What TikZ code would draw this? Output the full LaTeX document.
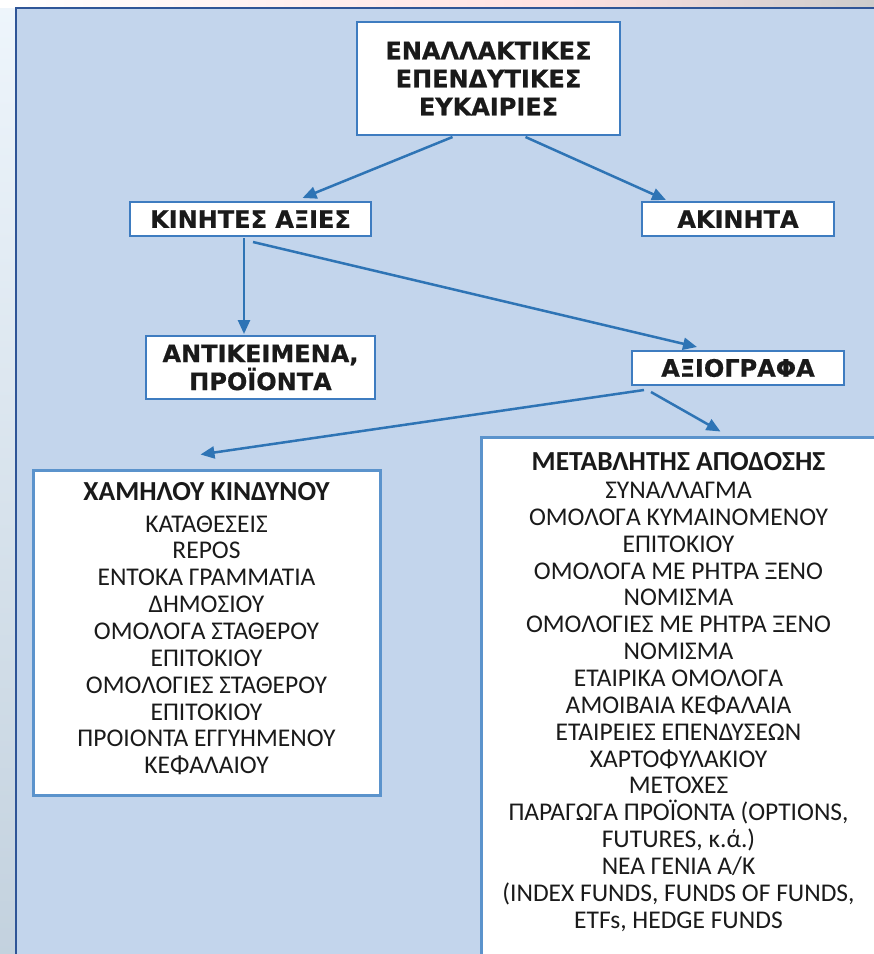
\documentclass[tikz,border=0pt]{standalone}
\usepackage{fontspec}
\setmainfont{Carlito}
\newfontfamily\hdfont{DejaVu Sans}[FakeBold=0.6]
\usetikzlibrary{arrows.meta,calc}
\definecolor{bgblue}{HTML}{C3D5EC}
\definecolor{stripblue}{HTML}{D4E6F6}
\definecolor{frameblue}{HTML}{2F5597}
\definecolor{arrowblue}{HTML}{2E74B5}
\definecolor{boxline}{HTML}{3E7CC0}
\definecolor{bigline}{HTML}{5B93CC}
\definecolor{txt}{HTML}{1A1A1A}
\tikzset{
  hdbox/.style={draw=boxline, line width=2pt, fill=white, inner sep=0pt, align=center,
    text=txt, font=\hdfont\bfseries\fontsize{24}{28}\selectfont},
  listbox/.style={draw=bigline, line width=3pt, fill=white, inner sep=0pt},
  listtxt/.style={anchor=north, align=center, text=txt, inner sep=0pt,
    font=\fontsize{25.5}{26.85}\selectfont},
  conn/.style={draw=arrowblue, line width=2.5pt, -{Triangle[length=14pt,width=12pt]}}
}
\newcommand{\ttl}[1]{{\bfseries\fontsize{27.5}{26.8}\selectfont #1}}
\begin{document}
\begin{tikzpicture}[x=1pt,y=-1pt]
\useasboundingbox (0,0) rectangle (874,954);
% slide background
\fill[stripblue] (0,0) rectangle (874,954);
\shade[left color=white, right color=white!70!red!40] (0,0) rectangle (560,8);
\shade[left color=white!70!red!40, right color=gray!40] (560,0) rectangle (874,8);
\shade[top color=white!60!stripblue, bottom color=stripblue!80!gray] (0,8) rectangle (15,954);
\fill[bgblue] (16,8) rectangle (876,956);
\draw[frameblue, line width=2pt] (16,956) -- (16,8) -- (876,8);
% nodes
\node[hdbox, minimum width=263pt, minimum height=113pt] (top) at (488.5,78.5)
  {ΕΝΑΛΛΑΚΤΙΚΕΣ\\ΕΠΕΝΔΥΤΙΚΕΣ\\ΕΥΚΑΙΡΙΕΣ};
\node[hdbox, minimum width=241pt, minimum height=34pt] (kin) at (250.5,219) {ΚΙΝΗΤΕΣ ΑΞΙΕΣ};
\node[hdbox, minimum width=192pt, minimum height=34pt] (akin) at (738,219) {ΑΚΙΝΗΤΑ};
\node[hdbox, minimum width=229pt, minimum height=63pt] (ant) at (260.5,367.5) {ΑΝΤΙΚΕΙΜΕΝΑ,\\ΠΡΟΪΟΝΤΑ};
\node[hdbox, minimum width=212pt, minimum height=34pt] (axi) at (738,368) {ΑΞΙΟΓΡΑΦΑ};
\node[listbox, minimum width=347pt, minimum height=325pt] (low) at (206.5,632.5) {};
\node[listtxt] (lowtxt) at ($(low.north)+(0,14)$)
  {\ttl{ΧΑΜΗΛΟΥ ΚΙΝΔΥΝΟΥ}\\[4.5pt]ΚΑΤΑΘΕΣΕΙΣ\\REPOS\\ΕΝΤΟΚΑ ΓΡΑΜΜΑΤΙΑ\\ΔΗΜΟΣΙΟΥ\\ΟΜΟΛΟΓΑ ΣΤΑΘΕΡΟΥ\\ΕΠΙΤΟΚΙΟΥ\\ΟΜΟΛΟΓΙΕΣ ΣΤΑΘΕΡΟΥ\\ΕΠΙΤΟΚΙΟΥ\\ΠΡΟΙΟΝΤΑ ΕΓΓΥΗΜΕΝΟΥ\\ΚΕΦΑΛΑΙΟΥ};
\node[listbox, minimum width=395pt, minimum height=530pt] (var) at (678.5,702) {};
\node[listtxt] (vartxt) at ($(var.north)+(0,16.5)$)
  {\ttl{ΜΕΤΑΒΛΗΤΗΣ ΑΠΟΔΟΣΗΣ}\\[1.5pt]ΣΥΝΑΛΛΑΓΜΑ\\ΟΜΟΛΟΓΑ ΚΥΜΑΙΝΟΜΕΝΟΥ\\ΕΠΙΤΟΚΙΟΥ\\ΟΜΟΛΟΓΑ ΜΕ ΡΗΤΡΑ ΞΕΝΟ\\ΝΟΜΙΣΜΑ\\ΟΜΟΛΟΓΙΕΣ ΜΕ ΡΗΤΡΑ ΞΕΝΟ\\ΝΟΜΙΣΜΑ\\ΕΤΑΙΡΙΚΑ ΟΜΟΛΟΓΑ\\ΑΜΟΙΒΑΙΑ ΚΕΦΑΛΑΙΑ\\ΕΤΑΙΡΕΙΕΣ ΕΠΕΝΔΥΣΕΩΝ\\ΧΑΡΤΟΦΥΛΑΚΙΟΥ\\ΜΕΤΟΧΕΣ\\ΠΑΡΑΓΩΓΑ ΠΡΟΪΟΝΤΑ (OPTIONS,\\FUTURES, κ.ά.)\\ΝΕΑ ΓΕΝΙΑ Α/Κ\\(INDEX FUNDS, FUNDS OF FUNDS,\\ETFs, HEDGE FUNDS};
% connectors
\draw[conn] ($(top.south)+(-36,1)$) -- ($(kin.north)+(52,-3)$);
\draw[conn] ($(top.south)+(37,1)$) -- ($(akin.north west)+(25,-1)$);
\draw[conn] ($(kin.south)+(-6.5,1)$) -- ($(ant.north)+(-16.5,-1)$);
\draw[conn] ($(kin.south)+(2.5,5)$) -- ($(axi.north west)+(66,-3)$);
\draw[conn] ($(axi.south west)+(13,4)$) -- ($(low.north)+(-6,-14)$);
\draw[conn] ($(axi.south west)+(20,6)$) -- ($(var.north west)+(241,-4)$);
\end{tikzpicture}
\end{document}
